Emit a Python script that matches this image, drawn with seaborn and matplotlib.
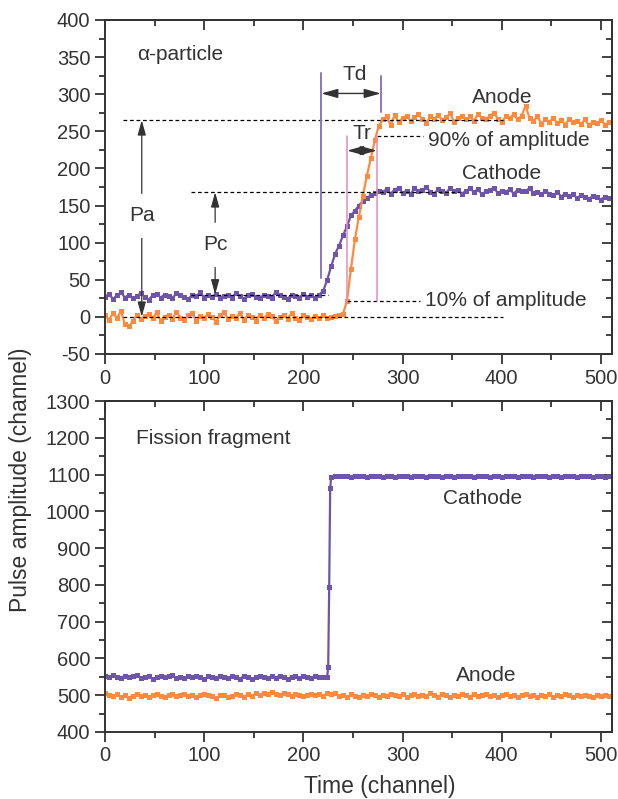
import numpy as np
import pandas as pd
import matplotlib
matplotlib.use("Agg")
import matplotlib.pyplot as plt
import seaborn as sns
from matplotlib.ticker import MultipleLocator

# sampled every 4 channels (0..508) unless stated otherwise
ALPHA_CATH_BASE = [27, 31, 24, 29, 33, 26, 30, 25, 28, 32, 27, 23, 29, 31, 26, 30, 28, 25, 32, 29,
                   27, 24, 30, 28, 33, 26, 29, 27, 31, 25, 28, 30, 26, 32, 28, 24, 29, 31, 27, 25,
                   30, 28, 26, 33, 29, 27, 24, 30, 28, 26, 31, 27, 29, 25, 30]
ALPHA_CATH_RISE = [35, 50, 68, 85, 96, 110, 122, 137, 143, 150, 156, 160, 164, 167, 170]
ALPHA_CATH_TOP = [168, 172, 166, 171, 174, 167, 170, 165, 173, 169, 171, 175, 168, 166, 172, 170, 167, 174,
                  169, 171, 166, 170, 173, 168, 172, 165, 169, 171, 174, 167, 170, 168, 172, 166, 171, 169,
                  170, 173, 167, 168, 165, 170, 166, 164, 168, 162, 166, 163, 165, 160, 164, 162, 159, 163,
                  161, 158, 162, 160]

ALPHA_ANODE_BASE = [2, -4, 5, -2, 8, -10, -13, -6, 3, -3, 1, 4, -2, 6, -5, 0, 3, -3, 7, -1,
                    -4, 2, 5, -6, 1, -2, 4, 0, -7, 3, 6, -3, 1, -1, 5, -4, 2, 0, -5, 3,
                    -2, 4, 1, -6, 0, 3, -3, 5, -1, -4, 2, 0, -3, 1, -2, 3, -1, 0, 1, 2]
ALPHA_ANODE_RISE = [4, 22, 65, 105, 135, 163, 190, 214, 238, 257]
ALPHA_ANODE_TOP = [266, 270, 258, 272, 262, 268, 271, 264, 269, 273, 266, 261, 270, 267, 272, 265, 269, 274,
                   263, 268, 271, 266, 270, 264, 273, 268, 266, 271, 275, 267, 262, 270, 268, 273, 266, 271,
                   284, 268, 264, 270, 260, 266, 263, 268, 261, 265, 259, 267, 262, 264, 260, 266, 258, 263,
                   261, 265, 259, 262]

FF_CATH_BASE = [552, 548, 555, 550, 546, 553, 549, 551, 556, 547, 550, 553, 545, 549, 552, 548, 551, 554, 547,
                550, 546, 552, 549, 553, 548, 544, 551, 550, 547, 553, 549, 546, 552, 548, 545, 551, 550, 543,
                548, 552, 549, 546, 551, 547, 553, 548, 544, 550, 552, 547, 551, 549, 546, 552, 548, 550, 549]
FF_CATH_EDGE_CH = [225, 226, 227]
FF_CATH_EDGE = [577, 793, 1063]
FF_CATH_TOP = [1094, 1095, 1096, 1095, 1095, 1094, 1095, 1096, 1095, 1094, 1095, 1095, 1096, 1094, 1095,
               1095, 1094, 1096, 1095, 1095, 1094, 1095, 1096, 1095, 1094, 1095, 1095, 1096, 1094, 1095,
               1095, 1094, 1095, 1096, 1095, 1095, 1094, 1095, 1095, 1096, 1094, 1095, 1095, 1094, 1096,
               1095, 1095, 1094, 1095, 1096, 1095, 1094, 1095, 1095, 1096, 1094, 1095, 1095, 1094, 1095,
               1096, 1095, 1094, 1095, 1095, 1096, 1094, 1095, 1095, 1094, 1095]

FF_ANODE = [506, 499, 497, 502, 495, 500, 493, 498, 503, 497, 501, 496, 499, 504, 498, 495, 500, 502, 497, 499,
            503, 498, 501, 496, 500, 504, 499, 497, 492, 499, 501, 495, 498, 503, 500, 496, 502, 498, 505, 501,
            507, 503, 509, 504, 500, 506, 502, 498, 503, 500, 497, 501, 504, 499, 502, 498, 506, 503, 505, 497,
            500, 495, 502, 498, 494, 500, 497, 503, 499, 496, 501, 498, 504, 500, 497, 502, 495, 499, 503, 498,
            501, 497, 505, 500, 496, 502, 499, 494, 501, 497, 503, 499, 496, 502, 498, 500, 504, 497, 501, 495,
            499, 503, 498, 501, 496, 500, 502, 497, 499, 495, 501, 498, 503, 496, 500, 497, 502, 499, 494, 500,
            497, 501, 498, 496, 500, 497, 499, 498]

INK = "#333333"
PURPLE = "#6e55aa"
ORANGE = "#ff8a3d"
TD_COLOR = "#8a76c2"
TR_COLOR = "#e48cbf"


def build_frames():
    grid = np.arange(0, 512, 4)
    alpha = pd.DataFrame({
        "channel": np.concatenate([grid, grid]),
        "amplitude": ALPHA_CATH_BASE + ALPHA_CATH_RISE + ALPHA_CATH_TOP
                     + ALPHA_ANODE_BASE + ALPHA_ANODE_RISE + ALPHA_ANODE_TOP,
        "trace": ["Cathode"] * len(grid) + ["Anode"] * len(grid),
    })
    cath_ch = np.concatenate([np.arange(0, 228, 4), FF_CATH_EDGE_CH, np.arange(228, 512, 4)])
    fission = pd.DataFrame({
        "channel": np.concatenate([cath_ch, grid]),
        "amplitude": FF_CATH_BASE + FF_CATH_EDGE + FF_CATH_TOP + FF_ANODE,
        "trace": ["Cathode"] * len(cath_ch) + ["Anode"] * len(grid),
    })
    return alpha, fission


def style_frame(ax, ylim, ymaj, ymin):
    ax.set_xlim(0, 511)
    ax.set_ylim(*ylim)
    ax.xaxis.set_major_locator(MultipleLocator(100))
    ax.xaxis.set_minor_locator(MultipleLocator(50))
    ax.yaxis.set_major_locator(MultipleLocator(ymaj))
    ax.yaxis.set_minor_locator(MultipleLocator(ymin))
    ax.tick_params(which="both", direction="out", width=1.3, color=INK,
                   labelsize=14.5, labelcolor=INK, pad=3)
    ax.tick_params(which="major", length=7.5)
    ax.tick_params(which="minor", length=4)
    for s in ax.spines.values():
        s.set_linewidth(1.4)
        s.set_color(INK)
    # mirrored ticks on top / right point inwards
    top = ax.secondary_xaxis("top")
    top.xaxis.set_major_locator(MultipleLocator(100))
    top.xaxis.set_minor_locator(MultipleLocator(50))
    right = ax.secondary_yaxis("right")
    right.yaxis.set_major_locator(MultipleLocator(ymaj))
    right.yaxis.set_minor_locator(MultipleLocator(ymin))
    for sec in (top, right):
        sec.tick_params(which="both", direction="in", width=1.3, color=INK,
                        labeltop=False, labelright=False)
        sec.tick_params(which="major", length=7.5)
        sec.tick_params(which="minor", length=4)
        for s in sec.spines.values():
            s.set_linewidth(1.4)
            s.set_color(INK)
    ax.set_xlabel("")
    ax.set_ylabel("")


def dashed(ax, x0, x1, y):
    ax.plot([x0, x1], [y, y], color="black", lw=0.9, dashes=(3, 2.2))


def arrow(ax, label, xy, xytext, color=INK):
    ax.annotate(label, xy=xy, xytext=xytext, ha="center", va="center", fontsize=15, color=color,
                arrowprops=dict(arrowstyle="-|>,head_length=0.9,head_width=0.25", mutation_scale=10,
                                lw=0.9, color=INK, shrinkA=7, shrinkB=0))


def double_arrow(ax, x0, x1, y):
    ax.annotate("", xy=(x1, y), xytext=(x0, y),
                arrowprops=dict(arrowstyle="<|-|>,head_length=1.0,head_width=0.28", mutation_scale=10,
                                lw=1.0, color=INK, shrinkA=0, shrinkB=0))


def main():
    sns.set_style("ticks")
    plt.rcParams["font.family"] = ["Liberation Sans", "DejaVu Sans"]
    plt.rcParams["axes.unicode_minus"] = False

    alpha, fission = build_frames()
    palette = {"Cathode": PURPLE, "Anode": ORANGE}

    fig = plt.figure(figsize=(6.18, 7.99), dpi=100)
    ax1 = fig.add_axes([0.170, 0.557, 0.820, 0.418])
    ax2 = fig.add_axes([0.170, 0.084, 0.820, 0.414])

    for ax, df in ((ax1, alpha), (ax2, fission)):
        sns.lineplot(data=df, x="channel", y="amplitude", hue="trace", palette=palette, ax=ax,
                     marker="s", markersize=3.6, markeredgewidth=0, linewidth=1.6, legend=False)

    style_frame(ax1, (-50, 400), 50, 25)
    style_frame(ax2, (400, 1300), 100, 50)

    # --- alpha-particle annotations ---
    dashed(ax1, 18, 401, 265)
    dashed(ax1, 87, 358, 168)
    dashed(ax1, 18, 401, 0)
    dashed(ax1, 87, 225, 30)
    dashed(ax1, 244, 318, 21)
    dashed(ax1, 274, 321, 243.5)

    ax1.plot([218, 218], [52, 328], color=TD_COLOR, lw=1.4)
    ax1.plot([278, 278], [276, 325], color=TD_COLOR, lw=1.4)
    ax1.plot([244, 244], [20, 243.5], color=TR_COLOR, lw=1.1)
    ax1.plot([274, 274], [21.5, 243.5], color=TR_COLOR, lw=1.1)
    double_arrow(ax1, 218, 278, 301)
    double_arrow(ax1, 244, 274, 224)

    arrow(ax1, "Pa", (37, 265), (37, 136))
    arrow(ax1, "Pa", (37, 0), (37, 136), color="none")
    arrow(ax1, "Pc", (111, 168), (111, 97))
    arrow(ax1, "Pc", (111, 30), (111, 97), color="none")

    ax1.text(252, 326, "Td", ha="center", va="center", fontsize=15, color=INK)
    ax1.text(259, 247, "Tr", ha="center", va="center", fontsize=15, color=INK)
    ax1.text(326, 238, "90% of amplitude", ha="left", va="center", fontsize=15, color=INK)
    ax1.text(323, 22, "10% of amplitude", ha="left", va="center", fontsize=15, color=INK)
    ax1.text(400, 296, "Anode", ha="center", va="center", fontsize=15, color=INK)
    ax1.text(400, 193, "Cathode", ha="center", va="center", fontsize=15, color=INK)
    ax1.text(32, 354, "α-particle", ha="left", va="center", fontsize=15, color=INK)

    # --- fission fragment annotations ---
    ax2.text(31, 1198, "Fission fragment", ha="left", va="center", fontsize=15, color=INK)
    ax2.text(381, 1035, "Cathode", ha="center", va="center", fontsize=15, color=INK)
    ax2.text(384, 554, "Anode", ha="center", va="center", fontsize=15, color=INK)

    fig.text(0.033, 0.40, "Pulse amplitude (channel)", rotation=90, ha="center", va="center",
             fontsize=16.5, color=INK)
    fig.text(0.615, 0.016, "Time (channel)", ha="center", va="center", fontsize=16.5, color=INK)

    fig.savefig("out.png", dpi=100)


if __name__ == "__main__":
    main()
